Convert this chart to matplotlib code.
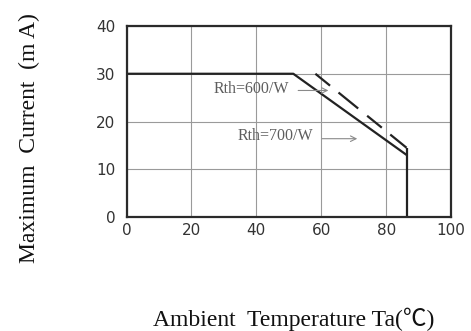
#!/usr/bin/env python3
"""
Derating curve: maximum current vs ambient temperature for two Rth values.
"""
import matplotlib
matplotlib.use("Agg")
import matplotlib.pyplot as plt

# Curve data
rth700_x = [0, 51.4, 86.3]
rth700_y = [30, 30, 13.0]
rth600_x = [58.2, 86.3]
rth600_y = [30, 14.5]
cutoff_x = [86.3, 86.3]
cutoff_y = [14.5, 0]

x_ticks = [0, 20, 40, 60, 80, 100]
y_ticks = [0, 10, 20, 30, 40]

# Annotations: label, text position, arrow start, arrow end
labels = ["Rth=600/W", "Rth=700/W"]
label_pos = [(26.7, 26.9), (34.1, 17.0)]
arrow_from = [(52.9, 26.5), (60.3, 16.4)]
arrow_to = [(62.2, 26.5), (71.1, 16.4)]

fig = plt.figure(figsize=(4.71, 3.31), dpi=100)
ax = fig.add_axes([0.2686, 0.3444, 0.689, 0.577])

line_col = "#222222"
ax.plot(rth700_x, rth700_y, color=line_col, lw=1.6, solid_capstyle="butt")
ax.plot(rth600_x, rth600_y, color=line_col, lw=1.6,
        linestyle=(0, (8.5, 4.9, 11.4, 5.2)), dash_capstyle="butt")
ax.plot(cutoff_x, cutoff_y, color=line_col, lw=1.6, solid_capstyle="butt")

for lab, (tx, ty), a0, a1 in zip(labels, label_pos, arrow_from, arrow_to):
    ax.text(tx, ty, lab, ha="left", va="center", fontsize=11.5,
            family="Liberation Serif", color="#5e5e5e")
    ax.annotate("", xy=a1, xytext=a0,
                arrowprops=dict(arrowstyle="->", color="#8a8a8a", lw=0.8,
                                shrinkA=0, shrinkB=0))

ax.set_xlim(0, 100)
ax.set_ylim(0, 40)
ax.set_xticks(x_ticks)
ax.set_yticks(y_ticks)
ax.grid(True, color="#9a9a9a", lw=0.8)
ax.set_axisbelow(True)
for s in ax.spines.values():
    s.set_color("#2a2a2a")
    s.set_linewidth(1.6)
ax.tick_params(axis="both", length=0, labelsize=11, labelcolor="#333333")
ax.tick_params(axis="y", pad=8)
ax.tick_params(axis="x", pad=4)

fig.text(0.0743, 0.2054, "Maximum  Current  (m A)", rotation=90,
         rotation_mode="anchor", ha="left", va="baseline", fontsize=17,
         family=["Liberation Serif", "DejaVu Serif"], color="#111111")
fig.text(0.623, 0.016, "Ambient  Temperature Ta(\u2103)", ha="center",
         va="baseline", fontsize=17,
         family=["Liberation Serif", "Noto Sans CJK SC"], color="#111111")

fig.savefig("out.png", dpi=100)
